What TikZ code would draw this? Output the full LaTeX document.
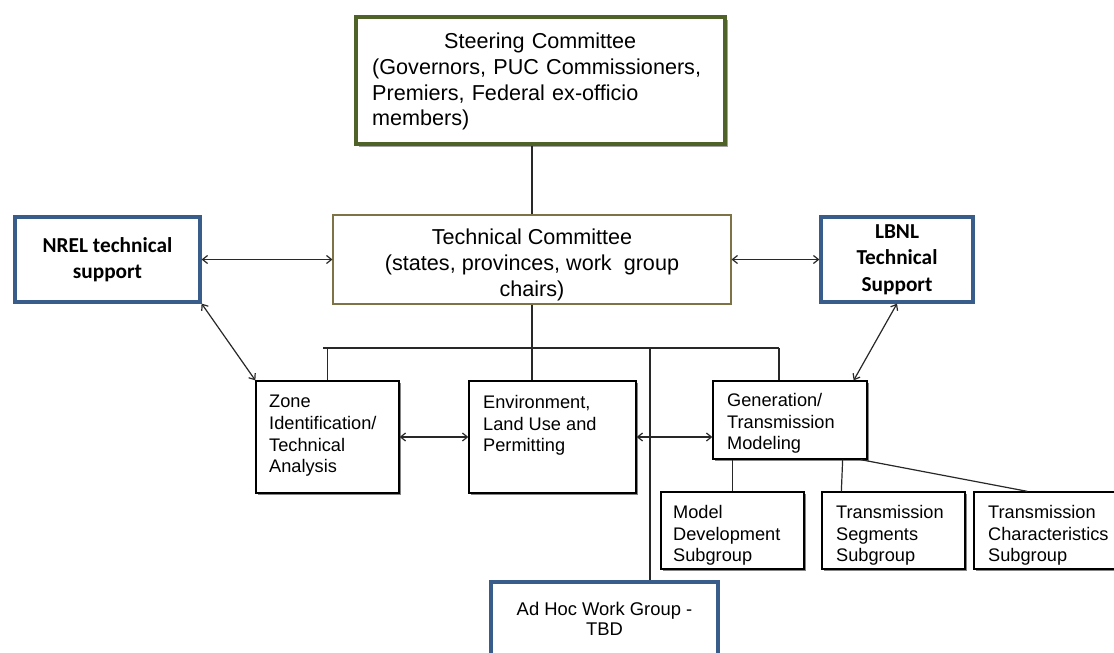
\documentclass[tikz,border=0pt]{standalone}
\usepackage{fontspec}
\setmainfont{Liberation Sans}
\newfontfamily\calib{Carlito}
\usetikzlibrary{arrows.meta,calc,shadows}
\definecolor{olivegreen}{RGB}{79,98,40}
\definecolor{techline}{RGB}{125,115,70}
\definecolor{techshadow}{RGB}{127,96,0}
\definecolor{nblue}{RGB}{56,93,138}
\definecolor{conn}{RGB}{40,40,40}
\begin{document}
\begin{tikzpicture}[x=1pt,y=-1pt,
  box/.style={draw=black, line width=1.3pt, fill=white, inner sep=0pt,
    drop shadow={shadow xshift=1.6pt,shadow yshift=-1.6pt,fill=black!60,opacity=0.8}},
  bluebox/.style={draw=nblue, line width=3.2pt, fill=white, inner sep=0pt},
  steerbox/.style={draw=olivegreen, line width=4pt, fill=white, inner sep=0pt,
    drop shadow={shadow xshift=2.5pt,shadow yshift=-2.5pt,fill=black!45,opacity=0.8}},
  techbox/.style={draw=techline, line width=1.1pt, fill=white, inner sep=0pt,
    drop shadow={shadow xshift=1.3pt,shadow yshift=-1.3pt,fill=techshadow,opacity=0.9}},
  bigtxt/.style={inner sep=0pt, font=\fontsize{21.6}{25.7}\selectfont},
  smalltxt/.style={inner sep=0pt, anchor=north west, align=left, font=\fontsize{18.2}{21.7}\selectfont},
  boldtxt/.style={inner sep=0pt, align=center, font=\calib\bfseries\fontsize{21.3}{26.3}\selectfont},
  link/.style={draw=conn, line width=1.2pt},
  arr/.style={link, {Straight Barb[length=5pt,width=8pt]}-{Straight Barb[length=5pt,width=8pt]}}
]
\useasboundingbox (0,0) rectangle (1114,653);
\fill[white] (0,0) rectangle (1114,653);

% boxes
\node[steerbox, minimum width=369pt, minimum height=127pt] (steer) at (540.5,80.5) {};
\node[techbox, minimum width=398pt, minimum height=89pt] (tech) at (532,259.5) {};
\node[bluebox, minimum width=185pt, minimum height=85pt] (nrel) at (107.5,259.5) {};
\node[bluebox, minimum width=152pt, minimum height=85pt] (lbnl) at (897,259.5) {};
\node[box, minimum width=143pt, minimum height=112pt] (zone) at (327.5,437) {};
\node[box, minimum width=167pt, minimum height=112pt] (env) at (552.5,437) {};
\node[box, minimum width=154pt, minimum height=78pt] (gen) at (790,420) {};
\node[box, minimum width=143pt, minimum height=77pt] (model) at (732.5,530.5) {};
\node[box, minimum width=143pt, minimum height=77pt] (seg) at (893.5,530.5) {};
\node[box, minimum width=160pt, minimum height=77pt] (char) at (1054,530.5) {};
\node[bluebox, minimum width=227pt, minimum height=88pt] (adhoc) at (604.5,626) {};

% texts
\node[bigtxt, anchor=north west, align=left, text width=336pt] (steerT) at (372,33)
  {\makebox[336pt][c]{Steering Committee}\\(Governors, PUC Commissioners,\\Premiers, Federal ex-officio\\members)};
\node[bigtxt, anchor=north, align=center] (techT) at (532,229)
  {Technical Committee\\(states, provinces, work\ \ group\\chairs)};
\node[boldtxt] (nrelT) at (nrel.center) {NREL technical\\support};
\node[boldtxt] (lbnlT) at (lbnl.center) {LBNL\\Technical\\Support};
\node[smalltxt] (zoneT) at (269,395) {Zone\\Identification/\\Technical\\Analysis};
\node[smalltxt] (envT) at (483,395) {Environment,\\Land Use and\\Permitting};
\node[smalltxt] (genT) at (727,393) {Generation/\\Transmission\\Modeling};
\node[smalltxt] (modelT) at (673,505) {Model\\Development\\Subgroup};
\node[smalltxt] (segT) at (836,505) {Transmission\\Segments\\Subgroup};
\node[smalltxt] (charT) at (988,505) {Transmission\\Characteristics\\Subgroup};
\node[inner sep=0pt, align=center, font=\fontsize{18.4}{20}\selectfont] (adhocT) at (604.5,619)
  {Ad Hoc Work Group -\\TBD};

% tree connectors
\coordinate (busL) at (323,348);
\coordinate (busR) at (779,348);
\coordinate (adhocTap) at (650,348);
\draw[link] (tech.north |- steer.south) -- (tech.north);
\draw[link] (tech.south) -- (tech.south |- env.north);
\draw[link] (busL) -- (busR);
\draw[link] (zone.north |- busL) -- (zone.north);
\draw[link] (busR) -- (busR |- gen.north);
\draw[link] (adhocTap) -- (adhocTap |- adhoc.north);
\draw[link] (model.north |- gen.south) -- (model.north);
\draw[link] ($(gen.south east)+(-25,0)$) -- ($(seg.north west)+(20,0)$);
\draw[link] ($(gen.south east)+(-7,0)$) -- ($(char.north west)+(54,0)$);

% arrows
\draw[arr] (nrel.east) -- (tech.west);
\draw[arr] (lbnl.west) -- (tech.east);
\draw[arr] (zone.east) -- (env.west);
\draw[arr] (env.east) -- (env.east -| gen.west);
\draw[arr] (nrel.south east) -- (zone.north west);
\draw[arr] (lbnl.south) -- ($(gen.north east)+(-14,0)$);
\end{tikzpicture}
\end{document}
